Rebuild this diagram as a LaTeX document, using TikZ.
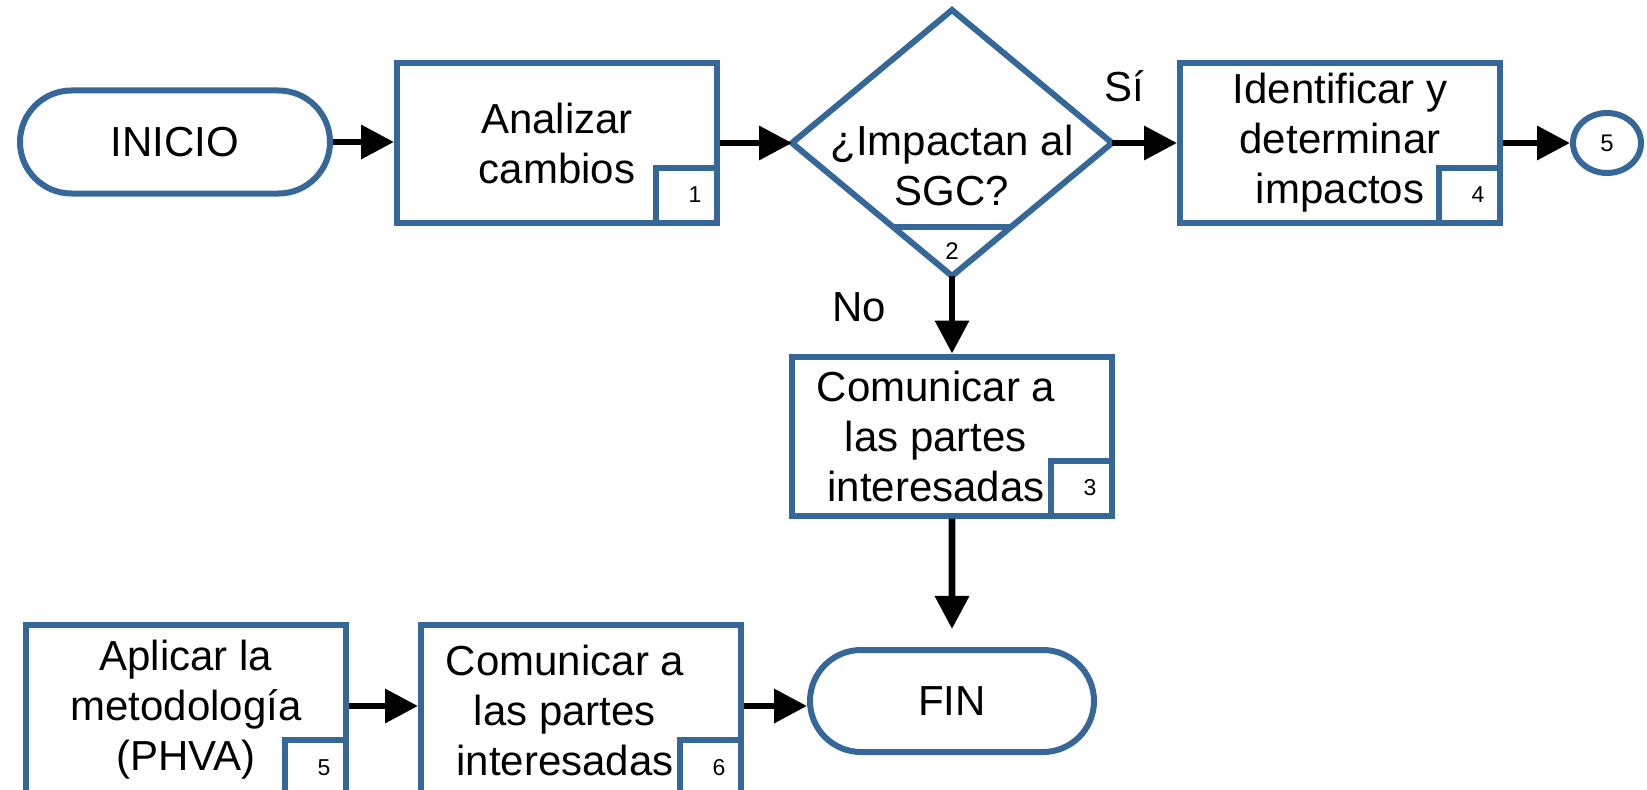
\documentclass[tikz,border=0pt]{standalone}
\usepackage{fontspec}
\setmainfont{Liberation Sans}
\usetikzlibrary{shapes.geometric,shapes.misc,arrows.meta,calc}
\definecolor{sgcblue}{RGB}{54,103,153}
\newcommand{\padr}{\rule{16pt}{0pt}}

\begin{document}
\begin{tikzpicture}[x=0.5pt,y=0.5pt,font=\fontsize{21}{25}\selectfont,
    flow/.style={-{Triangle[length=16.5pt,width=16.5pt]},line width=3.3pt}]
            \tikzstyle{process}=[rectangle,draw=sgcblue,line width=3pt,minimum width=160pt,minimum height=79.5pt,align=center,inner sep=2pt]
            \tikzstyle{terminal}=[rounded rectangle,draw=sgcblue,line width=3pt,minimum height=51.5pt,inner sep=2pt]
            \tikzstyle{decision}=[diamond,draw=sgcblue,line width=3pt,minimum width=160pt,minimum height=133pt,inner sep=0pt,outer sep=0pt]
            \tikzstyle{numbox}=[rectangle,draw=sgcblue,line width=3pt,fill=white,minimum width=30.5pt,minimum height=27.5pt,text width=15pt,align=right,inner xsep=7.75pt,inner ysep=0pt,anchor=south east,font=\fontsize{11.5}{13}\selectfont]
            \tikzstyle{linkpt}=[ellipse,draw=sgcblue,line width=3pt,minimum width=34pt,minimum height=30pt,inner sep=0pt,font=\fontsize{12}{14}\selectfont]
            \useasboundingbox (0,0) rectangle (1647,789);
            % top row
            \node(inicio)[terminal,minimum width=159pt] at (175,647) {INICIO};
            \node(analizar)[process] at (557,646) {Analizar\\cambios};
            \node(n1)[numbox] at (analizar.south east) {1};
            \node(d)[decision] at (952,646) {};
            \node(dtext)[align=center] at (952,624) {¿Impactan al\\SGC?};
            \draw[sgcblue,line width=3pt] ($(d.south)!0.366!(d.west)$) -- ($(d.south)!0.366!(d.east)$);
            \node(n2)[font=\fontsize{12}{14}\selectfont] at ($(d.south)+(0,25)$) {2};
            \node(ident)[process] at (1340,646) {Identificar y\\determinar\\impactos};
            \node(n4)[numbox] at (ident.south east) {4};
            \node(c5)[linkpt] at (1607,646) {5};
            % middle
            \node(com1)[process] at (952,353) {Comunicar a\padr\\las partes\padr\\interesadas\padr};
            \node(n3)[numbox] at (com1.south east) {3};
            \node(si) at (1124,703) {Sí};
            \node(no) at (859,482) {No};
            % bottom row
            \node(fin)[terminal,minimum width=146pt,minimum height=51pt] at (952,88) {FIN};
            \node(aplicar)[process,minimum height=85pt] at (186,79) {Aplicar la\\metodología\\(PHVA)};
            \node(n5)[numbox] at (aplicar.south east) {5};
            \node(com2)[process,minimum height=85pt] at (581,79) {Comunicar a\padr\\las partes\padr\\interesadas\padr};
            \node(n6)[numbox] at (com2.south east) {6};
            % connectors
            \draw[flow] (inicio.east) -- (inicio.east -| analizar.west);
            \draw[flow] (analizar) -- (d);
            \draw[flow] (d) -- (ident);
            \draw[flow] (ident) -- (c5);
            \draw[flow] (d) -- (com1);
            \draw[flow,shorten >=9pt] (com1) -- (fin);
            \draw[flow] ([yshift=2pt]aplicar.east) -- ([yshift=2pt]com2.west);
            \draw[flow] ([yshift=2pt]com2.east) -- ([yshift=-2.5pt]fin.west);
          \end{tikzpicture}
\end{document}
